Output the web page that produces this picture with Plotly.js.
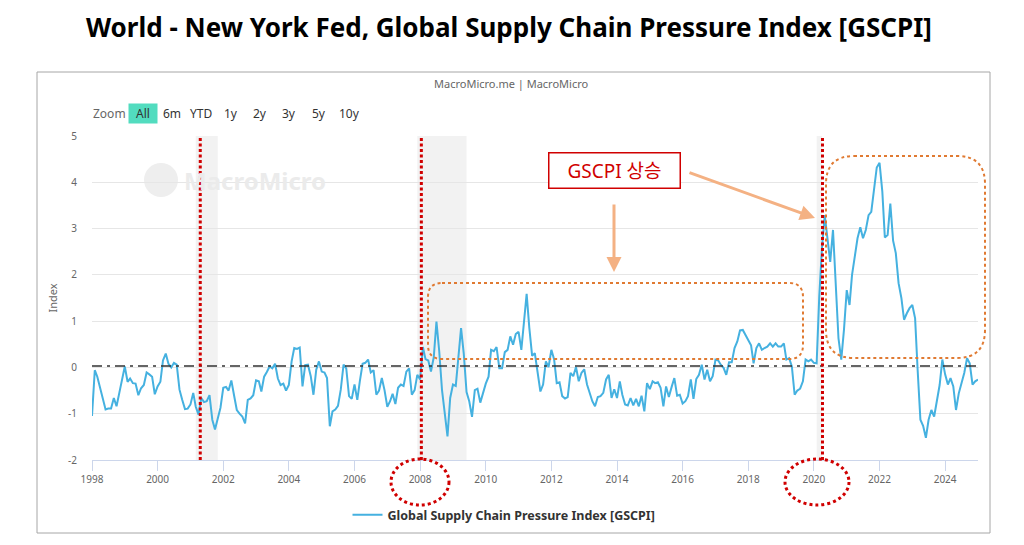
<!DOCTYPE html>
<html>
<head>
<meta charset="utf-8">
<script src="https://cdn.plot.ly/plotly-3.0.1.min.js"></script>
<style>
html,body{margin:0;padding:0;background:#fff;}
#chart{width:1024px;height:545px;}
</style>
</head>
<body>
<div id="chart"></div>
<script>
// ---- DATA (monthly GSCPI, starting Jan 1998) ----
const startYear = 1998;
const gscpi1998to2004 = [
 -1.05,-0.06,-0.2,-0.44,-0.73,-0.91,-0.89,-0.89,-0.66,-0.84,
 -0.55,-0.23,0.02,-0.31,-0.24,-0.34,-0.35,-0.6,-0.45,-0.38,
 -0.11,-0.15,-0.2,-0.58,-0.41,-0.31,0.15,0.3,0.08,0.0,
 0.1,0.06,-0.48,-0.7,-0.9,-0.89,-0.8,-0.55,-0.85,-1.02,
 -0.66,-0.75,-0.73,-0.6,-1.13,-1.34,-1.1,-0.87,-0.44,-0.42,
 -0.5,-0.28,-0.6,-0.92,-1.0,-1.06,-1.21,-0.7,-0.67,-0.6,
 -0.28,-0.3,-0.52,-0.2,-0.1,0.02,-0.02,0.08,-0.24,-0.38,
 -0.35,-0.5,-0.38,0.13,0.42,0.4,0.43,-0.41,0.05
];
const gscpi2004to2011 = [
 0.06,-0.19,-0.59,-0.05,0.13,-0.09,-0.11,-0.23,-1.27,-0.95,
 -0.91,-0.83,-0.48,0.06,-0.02,-0.62,-0.68,-0.37,-0.7,-0.3,
 0.08,0.1,0.17,-0.11,-0.06,-0.59,-0.5,-0.23,-0.49,-0.85,
 -0.73,-0.57,-0.79,-0.44,-0.37,-0.4,-0.09,-0.02,-0.59,-0.49,
 -0.16,-0.26,0.44,0.18,0.15,-0.09,0.22,0.99,0.35,-0.49,
 -0.98,-1.49,-0.66,-0.37,-0.4,0.23,0.85,0.3,-0.53,-0.73,
 -1.07,-0.49,-0.46,-0.76,-0.55,-0.35,-0.2,0.38,0.35,0.44,
 -0.02,-0.02,0.33,0.38,0.67,0.49,0.72,0.77,0.38,1.03,
 1.59,0.85,0.25
];
const gscpi2011to2018 = [
 0.31,-0.16,-0.52,-0.37,0.13,0.01,0.38,0.17,-0.34,-0.32,
 -0.62,-0.67,-0.64,-0.12,-0.19,0.01,-0.3,-0.12,-0.04,-0.37,
 -0.55,-0.73,-0.84,-0.64,-0.62,-0.55,-0.26,-0.16,-0.66,-0.47,
 -0.66,-0.3,-0.59,-0.8,-0.82,-0.66,-0.82,-0.68,-0.84,-0.61,
 -0.95,-0.34,-0.47,-0.3,-0.34,-0.32,-0.44,-0.84,-0.41,-0.64,
 -0.42,-0.23,-0.61,-0.59,-0.78,-0.73,-0.62,-0.26,-0.68,-0.25,
 -0.16,0.06,-0.26,-0.05,-0.3,-0.19,0.17,0.15,0.06,-0.01,
 -0.16,0.11,0.11,0.42,0.56,0.8,0.81,0.7,0.62,0.48
];
const gscpi2018to2025 = [
 0.09,0.42,0.52,0.38,0.42,0.45,0.52,0.45,0.52,0.45,
 0.45,0.52,0.17,0.2,0.02,-0.59,-0.5,-0.46,-0.3,0.17,
 0.13,0.17,0.1,0.09,
 1.53,2.6,3.29,2.79,2.28,2.97,1.67,0.63,0.17,0.81,
 1.67,1.35,2.0,2.39,2.79,3.03,2.79,2.97,3.29,3.36,
 3.9,4.32,4.42,3.8,2.81,2.86,3.54,2.74,2.47,1.82,
 1.5,1.03,1.17,1.28,1.35,1.06,-0.05,-1.13,-1.26,-1.52,
 -1.13,-0.92,-1.06,-0.7,-0.38,0.17,-0.15,-0.37,-0.23,-0.41,
 -0.92,-0.56,-0.37,-0.12,0.2,0.09,-0.37,-0.3,-0.26
];
const seriesName = 'Global Supply Chain Pressure Index [GSCPI]';
const xTickVals = ['1998-01-01','2000-01-01','2002-01-01','2004-01-01','2006-01-01','2008-01-01','2010-01-01','2012-01-01','2014-01-01','2016-01-01','2018-01-01','2020-01-01','2022-01-01','2024-01-01'];
const xTickText = ['1998','2000','2002','2004','2006','2008','2010','2012','2014','2016','2018','2020','2022','2024'];
const yTickVals = [-2,-1,0,1,2,3,4,5];
const yTickText = ['-2','-1','0','1','2','3','4','5'];
const recessions = [['2001-03-01','2001-11-01'],['2007-12-01','2009-06-01'],['2020-02-01','2020-04-01']];
const markerDates = ['2001-04-20','2008-01-15','2020-04-06'];
const baselineValue = 0.03;
const rangeButtons = ['6m','YTD','1y','2y','3y','5y','10y'];

// ---- build ----
const values = [].concat(gscpi1998to2004, gscpi2004to2011, gscpi2011to2018, gscpi2018to2025);
const dates = values.map((v,i)=>{
  const y = startYear + Math.floor(i/12), m = i%12 + 1;
  return y + '-' + (m<10?'0':'') + m + '-01';
});

// plot area in pixels
const L=92, R=978, T=136, B=460;
const W=R-L, H=B-T;
const px = x => (x-L)/W;
const py = y => (B-y)/H;
function rrect(x0,y0,x1,y1,r){
  const P=(x,y)=>px(x).toFixed(5)+','+py(y).toFixed(5);
  return 'M'+P(x0+r,y0)+' L'+P(x1-r,y0)+' Q'+P(x1,y0)+' '+P(x1,y0+r)+
         ' L'+P(x1,y1-r)+' Q'+P(x1,y1)+' '+P(x1-r,y1)+
         ' L'+P(x0+r,y1)+' Q'+P(x0,y1)+' '+P(x0,y1-r)+
         ' L'+P(x0,y0+r)+' Q'+P(x0,y0)+' '+P(x0+r,y0)+' Z';
}

const FONT = 'Noto Sans, Noto Sans CJK KR, sans-serif';
const RED = '#d00000', ORANGE = '#e07a32', ARROW = '#f4b183';

const shapes = [];
recessions.forEach(r=>shapes.push({type:'rect',xref:'x',yref:'paper',x0:r[0],x1:r[1],y0:0,y1:1,
  fillcolor:'#f2f2f2',line:{width:0},layer:'below'}));
// frame
shapes.push({type:'rect',xref:'paper',yref:'paper',x0:px(37),x1:px(990),y0:py(533),y1:py(72),
  line:{color:'#a6a6a6',width:1},fillcolor:'rgba(0,0,0,0)',layer:'below'});
// baseline dash-dot
shapes.push({type:'line',xref:'paper',yref:'y',x0:0,x1:1,y0:baselineValue,y1:baselineValue,
  line:{color:'#333',width:1.5,dash:'10px,5px,3px,5px'}});
// red dotted markers
markerDates.forEach(d=>shapes.push({type:'line',xref:'x',yref:'paper',x0:d,x1:d,y0:0,y1:1,
  line:{color:RED,width:3,dash:'3px,2.5px'}}));
// red dotted circles around labels
shapes.push({type:'circle',xref:'paper',yref:'paper',x0:px(391),x1:px(449),y0:py(505),y1:py(459),
  line:{color:RED,width:3,dash:'3px,3px'}});
shapes.push({type:'circle',xref:'paper',yref:'paper',x0:px(785),x1:px(849),y0:py(505),y1:py(459),
  line:{color:RED,width:3,dash:'3px,3px'}});
// orange rounded boxes
shapes.push({type:'path',xref:'paper',yref:'paper',path:rrect(428,283,803,359,14),
  line:{color:ORANGE,width:2,dash:'dot'}});
shapes.push({type:'path',xref:'paper',yref:'paper',path:rrect(826,156,985,358,28),
  line:{color:ORANGE,width:2,dash:'dot'}});
// watermark icon
shapes.push({type:'circle',xref:'paper',yref:'paper',x0:px(144),x1:px(178),y0:py(197),y1:py(163),
  fillcolor:'#eeeeee',line:{width:0},layer:'below'});

const annotations = [];
annotations.push({xref:'paper',yref:'paper',x:px(509),y:py(27),text:'<b>World - New York Fed, Global Supply Chain Pressure Index [GSCPI]</b>',
  showarrow:false,font:{family:FONT,size:26,color:'#000'},xanchor:'center',yanchor:'middle'});
annotations.push({xref:'paper',yref:'paper',x:px(511),y:py(84),text:'MacroMicro.me | MacroMicro',
  showarrow:false,font:{family:FONT,size:11,color:'#666'},xanchor:'center',yanchor:'middle'});
annotations.push({xref:'paper',yref:'paper',x:px(91),y:py(114),text:'Zoom',
  showarrow:false,font:{family:FONT,size:12,color:'#666'},xanchor:'left',yanchor:'middle'});
annotations.push({xref:'paper',yref:'paper',x:px(142.8),y:py(113.5),text:'All',
  showarrow:false,font:{family:FONT,size:12,color:'#333'},xanchor:'center',yanchor:'middle',
  bgcolor:'#52dcbf',width:24,height:15,borderpad:2});
const btnX = [172,201,231,260,289,318.5,349];
rangeButtons.forEach((b,i)=>annotations.push({xref:'paper',yref:'paper',x:px(btnX[i]),y:py(114),text:b,
  showarrow:false,font:{family:FONT,size:12,color:'#333'},xanchor:'center',yanchor:'middle'}));
annotations.push({xref:'paper',yref:'paper',x:px(182),y:py(180),text:'<b>MacroMicro</b>',
  showarrow:false,font:{family:FONT,size:24,color:'#ebebeb'},xanchor:'left',yanchor:'middle'});
annotations.push({xref:'paper',yref:'paper',x:px(614),y:py(170.5),text:'GSCPI 상승',
  showarrow:false,font:{family:FONT,size:19,color:RED},xanchor:'center',yanchor:'middle',
  bgcolor:'#fff',bordercolor:RED,borderwidth:1.5,borderpad:5,width:120,height:24});
annotations.push({xref:'paper',yref:'paper',x:px(815),y:py(218),ax:-127,ay:-46,text:'',
  showarrow:true,arrowhead:2,arrowsize:1,arrowwidth:3,arrowcolor:ARROW});
annotations.push({xref:'paper',yref:'paper',x:px(614),y:py(272),ax:0,ay:-69,text:'',
  showarrow:true,arrowhead:2,arrowsize:1,arrowwidth:3,arrowcolor:ARROW});

const trace = {
  x: dates, y: values, type:'scatter', mode:'lines', name: seriesName,
  line:{color:'#45b1e0',width:2}, hoverinfo:'skip'
};

const layout = {
  width:1024, height:545,
  margin:{l:L,r:1024-R,t:T,b:545-B},
  paper_bgcolor:'#fff', plot_bgcolor:'#fff',
  font:{family:FONT,color:'#666'},
  showlegend:true,
  legend:{orientation:'h',x:px(504),xanchor:'center',y:py(515),yanchor:'middle',
    font:{family:FONT,size:12.5,color:'#333',weight:'bold'},itemwidth:30,bgcolor:'rgba(0,0,0,0)'},
  xaxis:{type:'date',range:['1998-01-01','2025-01-01'],tickvals:xTickVals,ticktext:xTickText,
    showgrid:false,zeroline:false,showline:true,linecolor:'#ccd6eb',linewidth:1,
    ticks:'outside',ticklen:10,tickcolor:'#ccd6eb',tickfont:{size:10,color:'#666'},fixedrange:true},
  yaxis:{range:[-2,5],tickvals:yTickVals,ticktext:yTickText,showgrid:true,gridcolor:'#e6e6e6',gridwidth:1,
    zeroline:false,showline:false,ticks:'outside',ticklen:12,tickcolor:'rgba(0,0,0,0)',
    tickfont:{size:10,color:'#666'},title:{text:'Index',font:{size:11,color:'#666'},standoff:8},fixedrange:true},
  shapes:shapes, annotations:annotations
};

Plotly.newPlot('chart',[trace],layout,{displayModeBar:false,staticPlot:true});
</script>
</body>
</html>
